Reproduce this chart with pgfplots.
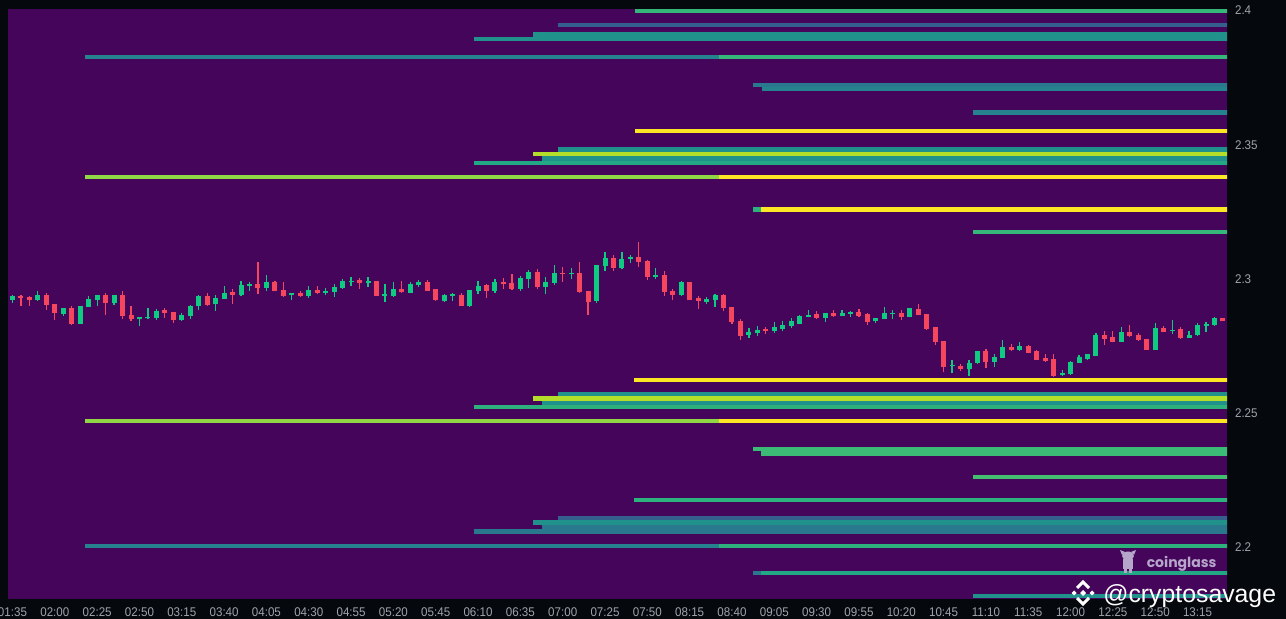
\documentclass[border=0pt]{standalone}
\usepackage{fontspec}
\setmainfont{Liberation Sans}
\newfontfamily\tickfont[FakeStretch=0.92]{Liberation Sans}
\newfontfamily\cgfont{Poppins}
\usepackage{pgfplots}
\usepackage{pgfplotstable}
\pgfplotsset{compat=1.18}

\definecolor{bgp}{HTML}{44055A}
\definecolor{outer}{HTML}{05080D}
\definecolor{lbl}{HTML}{A0A4AB}
\definecolor{cgreen}{HTML}{0ECB81}
\definecolor{cred}{HTML}{F6465D}
\definecolor{vyel}{HTML}{FDE725}
\definecolor{vlime}{HTML}{B5DE2B}
\definecolor{vlg}{HTML}{8FD744}
\definecolor{vg1}{HTML}{35B779}
\definecolor{vg2}{HTML}{2DB27D}
\definecolor{vg3}{HTML}{3BBB75}
\definecolor{vg4}{HTML}{44BF70}
\definecolor{vtg}{HTML}{22A884}
\definecolor{vt1}{HTML}{21918C}
\definecolor{vt2}{HTML}{26828E}
\definecolor{vt3}{HTML}{2A788E}
\definecolor{vbl}{HTML}{355F8D}
\definecolor{lav}{HTML}{B6A6CA}

% candles: t = minutes after 01:35, L low, H high, B body bottom, T body top
\pgfplotstableread{
t L H B T
0 2.2910 2.2940 2.2921 2.2936
15 2.2917 2.2955 2.2921 2.2940
30 2.2863 2.2893 2.2871 2.2891
40 2.2834 2.2899 2.2834 2.2899
45 2.2895 2.2937 2.2896 2.2926
50 2.2901 2.2940 2.2923 2.2939
60 2.2904 2.2939 2.2910 2.2939
75 2.2826 2.2857 2.2850 2.2857
80 2.2851 2.2892 2.2854 2.2858
85 2.2848 2.2888 2.2856 2.2882
100 2.2844 2.2872 2.2846 2.2865
105 2.2852 2.2903 2.2861 2.2901
110 2.2886 2.2939 2.2899 2.2937
120 2.2880 2.2939 2.2906 2.2929
125 2.2924 2.2974 2.2927 2.2949
135 2.2938 2.2991 2.2940 2.2978
140 2.2956 2.2989 2.2975 2.2980
150 2.2956 2.3016 2.2968 2.2989
165 2.2922 2.2947 2.2939 2.2947
175 2.2930 2.2973 2.2938 2.2958
185 2.2939 2.2968 2.2949 2.2954
190 2.2934 2.2983 2.2952 2.2970
195 2.2964 2.2999 2.2966 2.2993
200 2.2975 2.3009 2.2990 2.2994
210 2.2970 2.3006 2.2986 2.2991
220 2.2914 2.2981 2.2938 2.2944
225 2.2934 2.2988 2.2937 2.2963
235 2.2947 2.2990 2.2949 2.2981
240 2.2971 2.2997 2.2978 2.2989
255 2.2914 2.2944 2.2919 2.2940
260 2.2919 2.2947 2.2938 2.2943
270 2.2896 2.2960 2.2898 2.2959
275 2.2943 2.2993 2.2956 2.2974
285 2.2949 2.2999 2.2955 2.2989
300 2.2956 2.3011 2.2963 2.3005
305 2.2968 2.3034 2.3001 2.3027
315 2.2944 2.3009 2.2971 2.2990
320 2.2979 2.3053 2.2985 2.3022
330 2.3000 2.3041 2.3018 2.3022
345 2.2912 2.3053 2.2917 2.3053
350 2.3031 2.3099 2.3048 2.3078
360 2.3036 2.3101 2.3041 2.3074
365 2.3060 2.3090 2.3073 2.3082
380 2.3001 2.3042 2.3007 2.3015
395 2.2937 2.2993 2.2939 2.2990
410 2.2907 2.2934 2.2915 2.2924
415 2.2896 2.2944 2.2923 2.2940
435 2.2780 2.2818 2.2791 2.2803
440 2.2788 2.2825 2.2799 2.2810
450 2.2799 2.2840 2.2806 2.2821
455 2.2806 2.2844 2.2814 2.2829
460 2.2818 2.2855 2.2825 2.2844
465 2.2831 2.2865 2.2832 2.2862
470 2.2857 2.2885 2.2860 2.2867
480 2.2840 2.2873 2.2856 2.2873
490 2.2861 2.2883 2.2863 2.2875
495 2.2860 2.2882 2.2871 2.2876
510 2.2837 2.2855 2.2844 2.2855
515 2.2851 2.2896 2.2851 2.2875
520 2.2851 2.2885 2.2868 2.2872
530 2.2857 2.2893 2.2860 2.2891
555 2.2651 2.2698 2.2675 2.2679
565 2.2640 2.2698 2.2664 2.2688
570 2.2683 2.2732 2.2686 2.2731
580 2.2671 2.2721 2.2691 2.2710
585 2.2706 2.2773 2.2707 2.2748
595 2.2731 2.2765 2.2736 2.2751
620 2.2639 2.2660 2.2641 2.2651
625 2.2644 2.2695 2.2647 2.2691
630 2.2686 2.2718 2.2688 2.2710
635 2.2699 2.2721 2.2703 2.2720
640 2.2713 2.2799 2.2714 2.2791
655 2.2765 2.2821 2.2767 2.2803
675 2.2736 2.2837 2.2736 2.2819
685 2.2795 2.2846 2.2806 2.2810
695 2.2779 2.2805 2.2781 2.2793
700 2.2788 2.2835 2.2790 2.2828
705 2.2803 2.2840 2.2824 2.2834
710 2.2826 2.2858 2.2829 2.2856
}\greentab

\pgfplotstableread{
t L H B T
5 2.2901 2.2939 2.2930 2.2936
10 2.2901 2.2937 2.2921 2.2932
20 2.2886 2.2949 2.2903 2.2940
25 2.2847 2.2906 2.2872 2.2906
35 2.2830 2.2898 2.2834 2.2892
55 2.2867 2.2949 2.2912 2.2939
65 2.2852 2.2955 2.2862 2.2940
70 2.2845 2.2901 2.2851 2.2866
90 2.2856 2.2892 2.2875 2.2886
95 2.2837 2.2877 2.2846 2.2877
115 2.2901 2.2947 2.2904 2.2937
130 2.2908 2.2962 2.2942 2.2950
145 2.2943 2.3063 2.2968 2.2981
155 2.2954 2.2994 2.2956 2.2989
160 2.2934 2.2988 2.2936 2.2959
170 2.2934 2.2955 2.2937 2.2949
180 2.2943 2.2973 2.2948 2.2958
205 2.2964 2.3005 2.2985 2.2996
215 2.2937 2.2993 2.2937 2.2991
230 2.2949 2.2993 2.2950 2.2963
245 2.2955 2.2996 2.2956 2.2989
250 2.2919 2.2962 2.2921 2.2962
265 2.2899 2.2949 2.2901 2.2940
280 2.2928 2.2981 2.2956 2.2977
290 2.2962 2.3003 2.2981 2.2990
295 2.2959 2.3019 2.2962 2.2986
310 2.2962 2.3036 2.2971 2.3026
325 2.2990 2.3045 2.3018 2.3022
335 2.2948 2.3062 2.2952 2.3021
340 2.2867 2.2955 2.2915 2.2955
355 2.3031 2.3090 2.3042 2.3078
370 2.3046 2.3138 2.3064 2.3082
375 2.2997 2.3071 2.3007 2.3067
385 2.2938 2.3030 2.2953 2.3014
390 2.2922 2.2962 2.2939 2.2955
400 2.2922 2.2990 2.2923 2.2989
405 2.2889 2.2937 2.2919 2.2929
420 2.2882 2.2944 2.2893 2.2940
425 2.2834 2.2896 2.2841 2.2895
430 2.2773 2.2852 2.2788 2.2845
445 2.2795 2.2821 2.2806 2.2814
475 2.2850 2.2881 2.2856 2.2870
485 2.2860 2.2885 2.2863 2.2873
500 2.2860 2.2888 2.2863 2.2876
505 2.2830 2.2872 2.2841 2.2869
525 2.2848 2.2886 2.2860 2.2875
535 2.2865 2.2907 2.2867 2.2889
540 2.2809 2.2870 2.2815 2.2870
545 2.2755 2.2820 2.2764 2.2820
550 2.2654 2.2769 2.2673 2.2769
560 2.2656 2.2682 2.2666 2.2677
575 2.2670 2.2738 2.2691 2.2731
590 2.2732 2.2757 2.2736 2.2747
600 2.2724 2.2753 2.2726 2.2751
605 2.2698 2.2736 2.2699 2.2732
610 2.2691 2.2721 2.2695 2.2706
615 2.2636 2.2721 2.2640 2.2702
645 2.2755 2.2806 2.2777 2.2791
650 2.2764 2.2806 2.2767 2.2784
660 2.2784 2.2829 2.2789 2.2803
665 2.2769 2.2800 2.2772 2.2791
670 2.2736 2.2777 2.2736 2.2777
680 2.2802 2.2824 2.2804 2.2819
690 2.2777 2.2821 2.2781 2.2814
715 2.2844 2.2856 2.2844 2.2856
}\redtab

% liquidation level: colour, start, price, width(pt)
\newcommand\lv[4]{\addplot[draw=#1,line width=#4pt,line cap=butt,mark=none] coordinates {(#2,#3) (720,#3)};}
% segment: colour, start, end, price, width(pt)
\newcommand\lvs[5]{\addplot[draw=#1,line width=#5pt,line cap=butt,mark=none] coordinates {(#2,#4) (#3,#4)};}

\pgfplotsset{candle/.style 2 args={draw=none, no markers, forget plot,
  error bars/.cd, y dir=plus, y explicit, error mark=none,
  error bar style={draw=#1, line width=#2, line cap=butt, solid}}}

\begin{document}
\begin{tikzpicture}
\fill[outer] (0,0) rectangle (643pt,309.5pt);
\begin{axis}[
  at={(4pt,10pt)}, anchor=south west,
  scale only axis, width=609.5pt, height=295.15pt,
  xmin=-2.66, xmax=717.4, ymin=2.1808, ymax=2.4007,
  axis background/.style={fill=bgp},
  axis line style={draw=none},
  tick style={draw=none},
  xtick={0,25,...,700},
  xticklabels={01:35,02:00,02:25,02:50,03:15,03:40,04:05,04:30,04:55,05:20,05:45,06:10,06:35,07:00,07:25,07:50,08:15,08:40,09:05,09:30,09:55,10:20,10:45,11:10,11:35,12:00,12:25,12:50,13:15},
  xticklabel style={font=\tickfont\fontsize{6.3}{7}\selectfont, text=lbl, anchor=base, yshift=-8.85pt},
  ytick={2.2,2.25,2.3,2.35,2.4},
  yticklabels={2.2,2.25,2.3,2.35,2.4},
  yticklabel pos=right,
  yticklabel style={font=\tickfont\fontsize{6.3}{7}\selectfont, text=lbl, anchor=west, xshift=0.5pt},
  clip=true,
]
% ---- levels above ----
\lv{vg1}{367.7}{2.3999}{1.85}
\lv{vbl}{322.2}{2.3946}{1.7}
\lv{vt1}{272.4}{2.3895}{2.0}
\lv{vt1}{307.4}{2.3911}{2.2}
\lvs{vt2}{42.8}{417.2}{2.3826}{1.85}
\lvs{vg1}{417.2}{720}{2.3826}{1.85}
\lv{vt3}{437.4}{2.3722}{2.0}
\lv{vt2}{442.7}{2.3707}{2.15}
\lv{vt2}{567.4}{2.3620}{2.2}
\lv{vyel}{367.7}{2.3552}{1.85}
\lv{vt1}{322.2}{2.3482}{2.2}
\lv{vlime}{307.4}{2.3466}{2.0}
\lv{vt1}{312.6}{2.3449}{2.4}
\lv{vtg}{272.4}{2.3431}{2.15}
\lvs{vlg}{42.8}{417.2}{2.3380}{2.15}
\lvs{vyel}{417.2}{720}{2.3380}{2.15}
\lvs{vg2}{437.4}{442.4}{2.3259}{2.2}
\lvs{vyel}{442.4}{720}{2.3259}{2.2}
\lv{vg1}{567.4}{2.3175}{1.7}
% ---- levels below ----
\lv{vyel}{367.4}{2.2624}{2.0}
\lv{vt1}{322.2}{2.2571}{2.15}
\lv{vlime}{307.4}{2.2555}{2.2}
\lv{vt1}{312.6}{2.2539}{2.15}
\lv{vg2}{272.4}{2.2523}{2.15}
\lvs{vlg}{42.8}{417.2}{2.2470}{2.0}
\lvs{vyel}{417.2}{720}{2.2470}{2.0}
\lv{vg3}{437.4}{2.2367}{2.0}
\lv{vg3}{442.4}{2.2351}{2.35}
\lv{vg4}{567.4}{2.2264}{2.0}
\lv{vg2}{367.4}{2.2177}{2.0}
\lv{vbl}{322.2}{2.2109}{2.0}
\lv{vt1}{307.4}{2.2093}{2.35}
\lv{vt3}{312.6}{2.2076}{2.15}
\lv{vt3}{272.4}{2.2060}{2.2}
\lvs{vt2}{42.8}{417.2}{2.2006}{2.0}
\lvs{vg2}{417.2}{720}{2.2006}{2.0}
\lvs{vt3}{437.4}{442.4}{2.1903}{2.0}
\lvs{vtg}{442.4}{720}{2.1903}{2.0}
\lv{vt1}{567.4}{2.1821}{2.0}
% ---- candles ----
\addplot[candle={cgreen}{0.6pt}]
  table[x=t, y=L, y error plus expr=\thisrow{H}-\thisrow{L}] {\greentab};
\addplot[candle={cgreen}{2.5pt}]
  table[x=t, y=B, y error plus expr=\thisrow{T}-\thisrow{B}] {\greentab};
\addplot[candle={cred}{0.6pt}]
  table[x=t, y=L, y error plus expr=\thisrow{H}-\thisrow{L}] {\redtab};
\addplot[candle={cred}{2.5pt}]
  table[x=t, y=B, y error plus expr=\thisrow{T}-\thisrow{B}] {\redtab};
\end{axis}
% ---- watermarks ----
\node[anchor=base, text=lav, font=\cgfont\bfseries\fontsize{7}{8}\selectfont, inner sep=0pt] at (590.8pt,25.85pt) {coinglass};
\begin{scope}[shift={(564pt,31.5pt)}, x=0.5pt, y=-0.5pt]
  \fill[lav] (0,0) ellipse (6 and 4.5);
  \fill[lav] (-6,-1) -- (-8,-6) -- (-3,-4) -- cycle;
  \fill[lav] (6,-1) -- (8,-6) -- (3,-4) -- cycle;
  \fill[lav] (-5,3) rectangle (5,13);
  \fill[lav] (-4,13) rectangle (-1,17);
  \fill[lav] (1,13) rectangle (4,17);
\end{scope}
\begin{scope}[shift={(541.5pt,13pt)}, x=0.5pt, y=-0.5pt]
  \fill[white] (0,-3) -- (3,0) -- (0,3) -- (-3,0) -- cycle;
  \fill[white] (-9,-2.5) -- (-6.5,0) -- (-9,2.5) -- (-11.5,0) -- cycle;
  \fill[white] (9,-2.5) -- (11.5,0) -- (9,2.5) -- (6.5,0) -- cycle;
  \draw[white, line width=1.5pt] (-6,-5) -- (0,-11) -- (6,-5);
  \draw[white, line width=1.5pt] (-6,5) -- (0,11) -- (6,5);
\end{scope}
\node[anchor=base west, text=white, font=\fontsize{12.4}{14}\selectfont, inner sep=0pt] at (551.5pt,8pt) {@cryptosavage};
\pgfresetboundingbox
\path[use as bounding box] (0,0) rectangle (643pt,309.5pt);
\end{tikzpicture}
\end{document}
